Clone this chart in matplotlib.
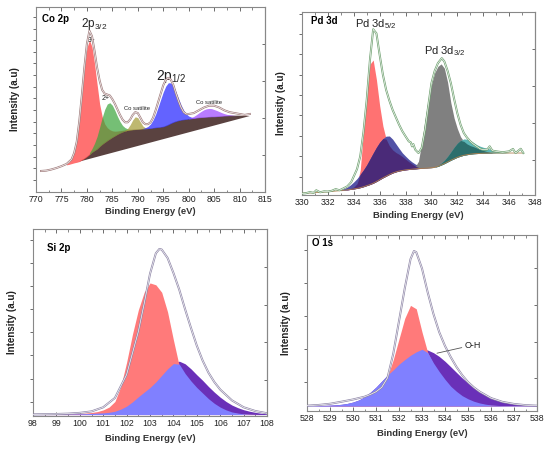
import numpy as np
import matplotlib
matplotlib.use("Agg")
import matplotlib.pyplot as plt

plt.rcParams['font.family'] = ['Liberation Sans', 'DejaVu Sans']
plt.rcParams['mathtext.fontset'] = 'custom'
plt.rcParams['mathtext.rm'] = 'Liberation Sans'
plt.rcParams['mathtext.default'] = 'regular'

# ---------------- Co 2p ----------------
co_x = np.arange(771, 812.01, 0.5)
co_bg = [10.8, 11.2, 11.5, 11.9, 12.3, 12.6, 13.0, 13.4, 13.7, 14.1,
         14.5, 14.8, 15.2, 15.6, 15.9, 16.3, 17.1, 17.9, 18.9, 20.0,
         21.3, 22.2, 23.1, 24.4, 25.6, 26.6, 27.6, 28.5, 29.4, 30.2,
         31.0, 31.7, 32.3, 32.8, 33.2, 33.4, 33.5, 33.6, 33.7, 33.8,
         33.9, 34.0, 34.1, 34.2, 34.4, 34.6, 34.8, 34.9, 35.1, 35.6,
         36.2, 36.9, 37.5, 38.0, 38.4, 38.7, 38.9, 39.1, 39.3, 39.5,
         39.6, 39.8, 40.0, 40.1, 40.2, 40.3, 40.4, 40.5, 40.5, 40.6,
         40.7, 40.8, 40.9, 41.0, 41.1, 41.1, 41.1, 41.1, 41.1, 41.0,
         40.9, 40.9, 40.9]
co_floor_x = [812, 778]
co_floor_y = [40.9, 15.9]
co_red_start = 776
co_red = [0.5, 1.2, 2.8, 6, 12, 22, 35, 49, 59, 62, 57, 47, 35, 23, 15, 10, 7, 5,
          3.5, 2.5, 1.8, 1.3, 0.9, 0.6, 0.4, 0.2, 0]
co_green_start = 780.5
co_green = [1, 2, 4, 6.8, 10.5, 14.5, 17.9, 19.8, 19.6, 17.3, 13.7, 9.7, 6.2, 3.5,
            1.8, 0.8, 0.3, 0]
co_sat1_start = 787.5
co_sat1 = [0.3, 1.0, 2.8, 5.3, 6.9, 6.3, 3.9, 1.6, 0.5, 0]
co_blue_start = 791
co_blue = [0.3, 0.6, 1.2, 2.4, 4.4, 7.3, 11.0, 15.0, 18.8, 21.5, 22.7, 21.9, 19.6,
           16, 12, 8.2, 5.2, 3.0, 1.6, 0.8, 0.3, 0]
co_sat2_start = 800
co_sat2 = [0.3, 0.6, 1.1, 1.8, 2.6, 3.4, 4.1, 4.5, 4.6, 4.4, 3.9, 3.3, 2.6, 1.9,
           1.3, 0.8, 0.5, 0.3, 0.1, 0]
co_env_x = [771, 772, 773, 774, 775, 776, 777, 777.5, 778, 778.5, 779, 779.5, 780,
            780.5, 781, 781.5, 782, 782.5, 783, 783.5, 784, 784.5, 785, 785.5, 786,
            786.5, 787, 787.5, 788, 788.5, 789, 789.5, 790, 790.5, 791, 791.5, 792,
            792.5, 793, 793.5, 794, 794.5, 795, 795.5, 796, 796.5, 797, 797.5, 798,
            798.5, 799, 799.5, 800, 801, 802, 803, 804, 805, 806, 807, 808, 809,
            810, 811, 812]
co_env_y = [11.2, 11.4, 12.0, 12.8, 13.8, 15.0, 17.5, 21, 27, 38, 52, 67, 80,
            87, 84, 76, 67, 60, 55, 53, 52.5, 52, 50, 47.5, 44.5,
            41.5, 39, 37.5, 37.5, 39, 41.5, 43, 42.5, 40, 37.5, 36.5, 36.5,
            37.5, 40, 44, 48.5, 53, 57.5, 60.5, 61.5, 60.5, 57.5, 53, 49,
            45.5, 43, 42, 42, 42.5, 44, 45.5, 46.5, 46.5, 45.5, 44, 43, 42.5,
            42, 41.5, 42]

# ---------------- Pd 3d ----------------
pd_x = np.arange(330, 347.01, 0.25)
pd_bg = [2.0, 2.05, 2.1, 2.2, 2.3, 2.4, 2.5, 2.65, 2.8, 2.95,
         3.1, 3.25, 3.4, 3.6, 3.8, 4.05, 4.3, 4.6, 5.0, 5.5,
         6.1, 6.7, 7.4, 8.3, 9.3, 10.3, 11.2, 12.1, 12.9, 13.5,
         14.0, 14.3, 14.6, 14.8, 15.0, 15.15, 15.3, 15.4, 15.5, 15.6,
         15.7, 16.0, 16.5, 17.2, 18.0, 18.9, 19.8, 20.6, 21.4, 22.0,
         22.5, 22.8, 23.1, 23.3, 23.4, 23.5, 23.6, 23.65, 23.7, 23.7,
         23.7, 23.7, 23.7, 23.7, 23.7, 23.7, 23.7, 23.7, 23.7]
pd_x1_start = 333.0
pd_red = [0, 0.1, 0.2, 0.5, 1.0, 2.5, 9.5, 30, 53, 65, 66.5, 55, 40, 28, 20, 15.5,
          12.5, 10.5, 9.0, 7.5, 5.8, 4.2, 2.8, 1.5, 0.6, 0.2, 0, 0, 0]
pd_bump = [0.5, 0.9, 1.5, 2.5, 3.8, 5.3, 7.2, 9.1, 11.2, 13.8, 16.3, 18.5, 20.2,
           21.2, 21.6, 20.8, 18.3, 15.2, 12.2, 9.5, 7.4, 5.5, 3.9, 2.6, 1.7, 1.0,
           0.5, 0.2, 0]
pd_x2_start = 338.5
pd_gray = [0.3, 1.2, 4, 14, 26, 37, 45, 51, 54, 54.6, 51.5, 43, 31, 22, 15.5, 10.5,
           7.5, 5.8, 4.6, 3.8, 3.0, 2.2, 1.5, 0.9, 0.4, 0.1, 0, 0, 0, 0, 0]
pd_teal = [0, 0, 0, 0, 0, 0, 0, 0, 0.5, 1.0, 1.8, 3.0, 4.5, 6.2, 7.6, 8.5, 8.8,
           8.4, 7.4, 6.1, 4.8, 3.9, 3.2, 2.7, 2.2, 1.7, 1.2, 0.8, 0.5, 0.2, 0]
pd_env_x = [330.0, 330.3, 330.6, 330.9, 331.1, 331.4, 331.7, 332.0, 332.3, 332.6,
            332.9, 333.2, 333.5, 333.8, 334.0, 334.25, 334.5, 334.75, 335.0, 335.25,
            335.5, 335.75, 336.0, 336.25, 336.5, 336.75, 337.0, 337.25, 337.5,
            337.75, 338.0, 338.25, 338.4, 338.5, 338.6, 338.75, 339.0, 339.25, 339.5,
            339.75, 340.0, 340.25, 340.5, 340.8, 341.0, 341.25, 341.5, 341.75, 342.0,
            342.25, 342.5, 342.75, 343.0, 343.25, 343.5, 343.75, 344.0, 344.3, 344.5,
            344.7, 345.0, 345.5, 346.0, 346.3, 346.5, 346.9, 347.1]
pd_env_y = [1.8, 2.0, 2.6, 2.2, 3.6, 2.5, 3.0, 2.9, 3.3, 4.2,
            3.6, 4.6, 5.7, 8.0, 11.1, 15, 21.9, 35, 52.4, 74,
            90.5, 88.3, 76.7, 66, 57.8, 52, 47, 43, 39,
            35.5, 32.7, 30, 29.5, 27.3, 28.5, 25.5, 23.7, 26.5, 36,
            48.8, 61.4, 68, 72.2, 74.9, 73.1, 68, 61.4, 53, 45.2,
            39, 34.5, 32, 30, 28.5, 27.3, 26, 25.5, 25.5, 27.3,
            25.0, 24.6, 24.1, 24.6, 25.9, 23.7, 26.0, 23.7]

# ---------------- Si 2p ----------------
si_x = np.arange(98, 108.01, 0.25)
si_base = 0.6
si_red = [0, 0, 0.1, 0.1, 0.2, 0.25, 0.3, 0.45, 0.6, 0.8, 1.1, 1.6, 2.5, 4.0, 7.0,
          15, 28, 43, 56, 65.5, 70.5, 69.5, 65.5, 55, 40, 26, 19, 14, 10, 7, 5, 3.5,
          2.4, 1.6, 1.0, 0.6, 0.35, 0.2, 0.1, 0, 0]
si_purple = [0.1, 0.1, 0.15, 0.2, 0.2, 0.25, 0.3, 0.35, 0.4, 0.5, 0.6, 0.75, 0.9,
             1.2, 1.8, 2.9, 4.5, 6.8, 9.5, 12, 14.5, 17.5, 21, 24.5, 27.3, 28.6, 27.2,
             24.5, 21.3, 18.3, 15, 12, 9.3, 7, 5.1, 3.7, 2.6, 1.8, 1.2, 0.7, 0.4]
si_blue = [0.1, 0.1, 0.15, 0.2, 0.2, 0.25, 0.3, 0.35, 0.4, 0.5, 0.6, 0.75, 0.9,
           1.2, 1.8, 2.9, 4.5, 6.8, 9.5, 12, 14.5, 17.5, 21, 24.5, 27.3, 27, 22,
           18, 14.5, 11.5, 8.5, 6, 4, 2.5, 1.4, 0.8, 0.4, 0.2, 0.1, 0.05, 0]
si_env_x = [98.0, 98.5, 99.0, 99.5, 100.0, 100.5, 101.0, 101.5, 102.0, 102.5,
            102.75, 103.0, 103.25, 103.4, 103.5, 103.75, 104.0, 104.25, 104.5,
            104.75, 105.0, 105.25, 105.5, 105.75, 106.0, 106.5, 107.0, 107.5, 108.0]
si_env_y = [0.7, 0.8, 0.9, 1.1, 1.5, 2.3, 4.5, 9.5, 22, 45,
            60, 76, 87, 89.3, 89, 84.5, 76.5, 67.5, 57,
            47, 37.5, 29.5, 23, 18, 14, 8.2, 4.5, 2.5, 1.3]

# ---------------- O 1s ----------------
o_x = np.arange(528, 538.01, 0.25)
o_base = 0.6
o_red = [0, 0, 0.05, 0.1, 0.15, 0.2, 0.3, 0.45, 0.6, 0.9, 1.3, 2.2, 4, 8.5, 17, 27,
         39, 51, 58.5, 56.5, 43, 31, 24, 18, 13, 9.5, 6.5, 4.5, 3, 2, 1.3, 0.8,
         0.5, 0.3, 0.15, 0.05, 0, 0, 0, 0, 0]
o_purple = [0.1, 0.15, 0.25, 0.35, 0.5, 0.7, 1.0, 1.5, 2.3, 3.5, 5.3, 8.0, 11, 14.5,
            18, 21, 24.3, 27, 29.5, 31.5, 33, 32.5, 31, 28.8, 26, 22.8, 19.5, 16.3,
            13.3, 10.8, 8.6, 6.7, 5.0, 3.8, 2.9, 2.1, 1.6, 1.2, 0.9, 0.6, 0.4]
o_blue = [0.1, 0.15, 0.25, 0.35, 0.5, 0.7, 1.0, 1.5, 2.3, 3.5, 5.3, 8.0, 11, 14.5,
          18, 21, 24.3, 27, 29.5, 31.5, 33, 31, 25, 20, 15.5, 11.5, 8.5, 6, 4.2,
          2.8, 1.8, 1.1, 0.6, 0.4, 0.2, 0.1, 0, 0, 0, 0, 0]
o_env_x = [528.0, 528.5, 529.0, 529.5, 530.0, 530.5, 530.75, 531.0, 531.25, 531.5,
           531.75, 532.0, 532.25, 532.5, 532.65, 532.75, 533.0, 533.25, 533.5,
           533.75, 534.0, 534.25, 534.5, 534.75, 535.0, 535.25, 535.5, 536.0,
           536.5, 537.0, 537.5, 538.0]
o_env_y = [0.8, 1.2, 1.9, 3.1, 4.4, 6.0, 7.3, 8.9, 11.5, 17,
           31, 50, 69, 86, 90.7, 90, 80.5, 66.5, 54,
           43.5, 35.5, 29, 23.3, 18.5, 14.5, 11.5, 9, 5.2,
           3.0, 1.8, 1.1, 0.8]


def piece(x_all, y_all, start, n):
    i = int(round((start - x_all[0]) / (x_all[1] - x_all[0])))
    return x_all[i:i + n], np.asarray(y_all[i:i + n], dtype=float)


def envelope(ax, x, y, color):
    ax.plot(x, y, color=color, lw=1.45, zorder=5, solid_joinstyle='round')
    ax.plot(x, y, color='white', lw=0.45, zorder=6, solid_joinstyle='round')


def frame(ax, xlim, ylim, xmaj, xmin, yleft, yright, xpad):
    ax.set_xlim(*xlim)
    ax.set_ylim(*ylim)
    ax.set_xticks(xmaj)
    ax.set_xticks(xmin, minor=True)
    ax.tick_params(axis='x', which='major', direction='in', length=3, width=0.6,
                   top=True, labelsize=6.3, pad=2.5, color='#555', labelcolor='#222')
    ax.tick_params(axis='x', which='minor', direction='in', length=1.8, width=0.5,
                   top=True, color='#555')
    ax.set_yticks(yleft)
    ax.tick_params(axis='y', direction='out', length=2.5, width=0.6,
                   labelleft=False, color='#555')
    sec = ax.secondary_yaxis('right')
    sec.set_ticks(yright)
    sec.tick_params(direction='in', length=2.5, width=0.6, labelright=False,
                    color='#555')
    sec.spines['right'].set_color('#888')
    sec.spines['right'].set_linewidth(0.8)
    for s in ax.spines.values():
        s.set_color('#888')
        s.set_linewidth(0.8)
    ax.set_xlabel('Binding Energy (eV)', fontsize=6.8, fontweight='bold',
                  color='#333', labelpad=xpad)
    ax.set_ylabel('Intensity (a.u)', fontsize=7, fontweight='bold',
                  color='#222', labelpad=9)


fig = plt.figure(figsize=(5.5, 4.55), dpi=100)

# ---- Co 2p panel ----
ax = fig.add_axes([0.0655, 0.5787, 0.4164, 0.4066])
co_bg_arr = np.asarray(co_bg)
m = co_x >= 778
ax.fill(np.concatenate([co_x[m], co_floor_x]),
        np.concatenate([co_bg_arr[m], co_floor_y]),
        color='#5a4240', lw=0, zorder=1)
for start, vals, col, al in [(co_red_start, co_red, '#ff4d4d', 0.8),
                             (co_green_start, co_green, '#3aa53a', 0.7),
                             (co_sat1_start, co_sat1, '#a8a040', 0.75),
                             (co_blue_start, co_blue, '#3c3cff', 0.8),
                             (co_sat2_start, co_sat2, '#a050ff', 0.75)]:
    xx, bb = piece(co_x, co_bg, start, len(vals))
    ax.fill_between(xx, bb, bb + np.asarray(vals), color=col, alpha=al, lw=0, zorder=2)
envelope(ax, co_env_x, co_env_y, '#a07c7c')
frame(ax, (770, 815), (0, 100), np.arange(770, 816, 5), np.arange(772.5, 815, 5),
      np.arange(6.3, 100, 6.3), [20, 40, 60, 80], 2)
ax.text(0.025, 0.935, 'Co 2p', transform=ax.transAxes, fontsize=7,
        fontweight='bold', va='center', ha='left')
ax.text(781.5, 90.8, '2p$_{3/2}$', fontsize=8.5, ha='center', va='center', color='#222')
ax.text(780.9, 81.8, '3+', fontsize=4.8, ha='center', va='center', color='#222')
ax.text(783.75, 50.6, '2+', fontsize=5, ha='center', va='center', color='#222')
ax.text(789.9, 45.2, 'Co satilite', fontsize=4.2, ha='center', va='center', color='#222')
ax.text(796.5, 62.2, '2p$_{1/2}$', fontsize=10, ha='center', va='center', color='#222')
ax.text(804.0, 48.0, 'Co satilite', fontsize=4.2, ha='center', va='center', color='#222')

# ---- Pd 3d panel ----
ax = fig.add_axes([0.5491, 0.5725, 0.4236, 0.4018])
x1, b1 = piece(pd_x, pd_bg, pd_x1_start, len(pd_red))
r = np.asarray(pd_red)
bu = np.asarray(pd_bump)
ax.fill_between(x1, b1, b1 + r, color='#ff7272', lw=0, zorder=2)
ax.fill_between(x1, b1, b1 + bu, color='#5252a6', lw=0, zorder=2)
ax.fill_between(x1, b1, b1 + np.minimum(r, bu), color='#4a2a78', lw=0, zorder=3)
x2, b2 = piece(pd_x, pd_bg, pd_x2_start, len(pd_gray))
g = np.asarray(pd_gray)
t = np.asarray(pd_teal)
ax.fill_between(x2, b2, b2 + g, color='#808080', lw=0, zorder=2)
ax.fill_between(x2, b2, b2 + t, color='#5bb5b5', lw=0, zorder=2)
ax.fill_between(x2, b2, b2 + np.minimum(g, t), color='#2c6e6c', lw=0, zorder=3)
ax.plot(pd_x, pd_bg, color='#b08050', lw=0.6, zorder=4)
envelope(ax, pd_env_x, pd_env_y, '#6fa070')
frame(ax, (330, 348), (1.3, 100), np.arange(330, 349, 2), np.arange(331, 348, 2),
      np.arange(11, 100, 11), [20, 40, 60, 80], 3)
ax.text(0.039, 0.951, 'Pd 3d', transform=ax.transAxes, fontsize=7,
        fontweight='bold', va='center', ha='left')
ax.text(335.7, 93.4, 'Pd 3d$_{5/2}$', fontsize=8, ha='center', va='center', color='#222')
ax.text(341.0, 78.5, 'Pd 3d$_{3/2}$', fontsize=8, ha='center', va='center', color='#222')

# ---- Si 2p panel ----
ax = fig.add_axes([0.06, 0.0864, 0.4255, 0.4103])
ax.fill_between(si_x, si_base, si_base + np.asarray(si_purple), color='#6a30b8', lw=0, zorder=2)
ax.fill_between(si_x, si_base, si_base + np.asarray(si_red), color='#ff7a7a', lw=0, zorder=3)
ax.fill_between(si_x, si_base, si_base + np.asarray(si_blue), color='#8080ff', lw=0, zorder=4)
envelope(ax, si_env_x, si_env_y, '#9088a8')
frame(ax, (98, 108), (0, 100), np.arange(98, 109, 1), np.arange(98.5, 108, 1),
      np.arange(7.5, 100, 12.4), [19, 39.3, 59.3, 79.8], 4)
ax.text(0.058, 0.897, 'Si 2p', transform=ax.transAxes, fontsize=7,
        fontweight='bold', va='center', ha='left')

# ---- O 1s panel ----
ax = fig.add_axes([0.5582, 0.0978, 0.4182, 0.3857])
ax.fill_between(o_x, o_base, o_base + np.asarray(o_purple), color='#6a30b8', lw=0, zorder=2)
ax.fill_between(o_x, o_base, o_base + np.asarray(o_red), color='#ff7a7a', lw=0, zorder=3)
ax.fill_between(o_x, o_base, o_base + np.asarray(o_blue), color='#8080ff', lw=0, zorder=4)
envelope(ax, o_env_x, o_env_y, '#9088a8')
frame(ax, (528, 538), (-2, 100), np.arange(528, 539, 1), np.arange(528.5, 538, 1),
      np.arange(14.7, 100, 19.2), [16.7, 38, 59.3, 80.6], 4)
ax.text(0.023, 0.953, 'O 1s', transform=ax.transAxes, fontsize=7,
        fontweight='bold', va='center', ha='left')
ax.annotate('O-H', xy=(533.65, 31.3), xytext=(534.85, 36), fontsize=6.5,
            va='center', ha='left', color='#222', zorder=8,
            arrowprops=dict(arrowstyle='-', color='#555', lw=0.6,
                            shrinkA=0, shrinkB=0))

fig.savefig('out.png', dpi=100)
